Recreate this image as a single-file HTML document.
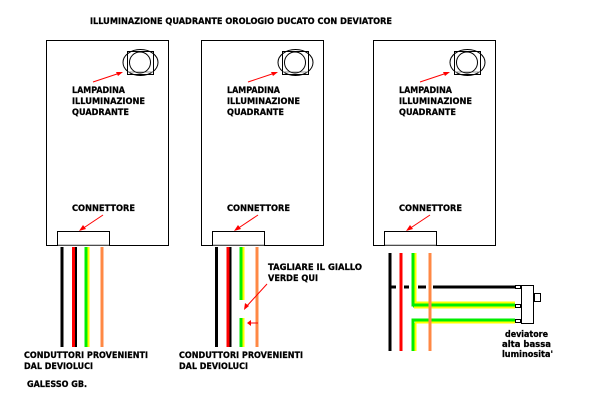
<!DOCTYPE html>
<html><head><style>body{margin:0;background:#fff}svg{display:block}text{font-family:"DejaVu Sans","Liberation Sans",sans-serif;font-weight:bold;font-size:8.5px;fill:#000;stroke:#000;stroke-width:0.25}</style></head><body>
<svg width="600" height="401" viewBox="0 0 600 401" xmlns="http://www.w3.org/2000/svg">
<defs>
<g id="panel">
<rect x="46.5" y="40.5" width="122" height="205" fill="#fff" stroke="#000" stroke-width="1"/>
<ellipse cx="140.5" cy="62.5" rx="17.5" ry="13" fill="none" stroke="#000"/>
<rect x="127.5" y="51.5" width="26" height="23" fill="none" stroke="#000"/>
<line x1="128" y1="72" x2="153" y2="72" stroke="#999"/>
<circle cx="140" cy="62.5" r="10.5" fill="none" stroke="#000"/>
<line x1="93" y1="82" x2="120" y2="73" stroke="#f00"/>
<polygon points="123,72 116,72 118,76" fill="#f00"/>
<text x="72" y="93" textLength="53" lengthAdjust="spacingAndGlyphs">LAMPADINA</text>
<text x="72" y="104" textLength="73" lengthAdjust="spacingAndGlyphs">ILLUMINAZIONE</text>
<text x="72" y="115" textLength="57" lengthAdjust="spacingAndGlyphs">QUADRANTE</text>
<text x="72" y="211" textLength="63" lengthAdjust="spacingAndGlyphs">CONNETTORE</text>
<line x1="103" y1="215" x2="82" y2="229" stroke="#f00"/>
<polygon points="79,231 83,225 86,229" fill="#f00"/>
<rect x="57.5" y="231.5" width="52" height="14" fill="#fff" stroke="#000"/>
<line x1="58" y1="245" x2="109" y2="245" stroke="#999"/>
</g>
</defs>
<text x="90" y="24" textLength="302" lengthAdjust="spacingAndGlyphs">ILLUMINAZIONE QUADRANTE OROLOGIO DUCATO CON DEVIATORE</text>
<use href="#panel"/>
<use href="#panel" transform="translate(155,0)"/>
<use href="#panel" transform="translate(327,0)"/>
<g stroke-width="3">
<line x1="62" y1="247" x2="62" y2="347" stroke="#000"/>
<line x1="73.5" y1="247" x2="73.5" y2="347" stroke="#f00"/>
<line x1="76" y1="247" x2="76" y2="347" stroke="#000" stroke-width="2"/>
<line x1="86" y1="247" x2="86" y2="347" stroke="#0e0"/>
<line x1="88.5" y1="247" x2="88.5" y2="347" stroke="#ff0" stroke-width="2"/>
<line x1="102" y1="247" x2="102" y2="347" stroke="#f84"/>
<line x1="216.5" y1="247" x2="216.5" y2="347" stroke="#000"/>
<line x1="228" y1="247" x2="228" y2="347" stroke="#f00"/>
<line x1="230.5" y1="247" x2="230.5" y2="347" stroke="#000" stroke-width="2"/>
<line x1="241" y1="247" x2="241" y2="300" stroke="#0e0"/>
<line x1="243.5" y1="247" x2="243.5" y2="300" stroke="#ff0" stroke-width="2"/>
<line x1="241" y1="318" x2="241" y2="347" stroke="#0e0"/>
<line x1="243.5" y1="318" x2="243.5" y2="347" stroke="#ff0" stroke-width="2"/>
<line x1="257" y1="247" x2="257" y2="347" stroke="#f84"/>
</g>
<line x1="267" y1="284" x2="246" y2="307" stroke="#f00"/>
<polygon points="244,310 245,303 249,306" fill="#f00"/>
<line x1="258" y1="323" x2="249" y2="323" stroke="#f00"/>
<polygon points="247,323 251,320 251,326" fill="#f00"/>
<text x="268" y="270" textLength="94" lengthAdjust="spacingAndGlyphs">TAGLIARE IL GIALLO</text>
<text x="268" y="281" textLength="50" lengthAdjust="spacingAndGlyphs">VERDE QUI</text>
<g stroke-width="3">
<line x1="390" y1="253" x2="390" y2="351" stroke="#000"/>
<line x1="401" y1="253" x2="401" y2="351" stroke="#f00"/>
<polyline points="413,253 413,305 515,305" fill="none" stroke="#0e0"/>
<polyline points="415.5,253 415.5,302.5 515,302.5" fill="none" stroke="#ff0" stroke-width="2"/>
<line x1="413" y1="306" x2="515" y2="306" stroke="#0e0"/>
<line x1="414" y1="307.5" x2="515" y2="307.5" stroke="#ff0" stroke-width="2"/>
<polyline points="515,320 413,320 413,351" fill="none" stroke="#0e0"/>
<line x1="415" y1="322.5" x2="515" y2="322.5" stroke="#ff0" stroke-width="2"/>
<line x1="415.5" y1="323" x2="415.5" y2="351" stroke="#ff0" stroke-width="2"/>
<line x1="430" y1="253" x2="430" y2="351" stroke="#f84"/>
<line x1="390" y1="287" x2="396" y2="287" stroke="#000"/>
<line x1="404" y1="287" x2="409" y2="287" stroke="#000"/>
<line x1="418" y1="287" x2="426" y2="287" stroke="#000"/>
<line x1="433" y1="287" x2="515" y2="287" stroke="#000"/>
</g>
<g fill="#fff" stroke="#000" stroke-width="1">
<rect x="515.5" y="285.5" width="5" height="3"/>
<rect x="515.5" y="304.5" width="5" height="3"/>
<rect x="515.5" y="319.5" width="5" height="3"/>
<rect x="521.5" y="285.5" width="12" height="38"/>
<rect x="534.5" y="293.5" width="6" height="8"/>
</g>
<text x="505" y="337" textLength="43" lengthAdjust="spacingAndGlyphs">deviatore</text>
<text x="502" y="347" textLength="49" lengthAdjust="spacingAndGlyphs">alta  bassa</text>
<text x="502" y="357" textLength="51" lengthAdjust="spacingAndGlyphs">luminosita'</text>
<text x="24" y="358" textLength="124" lengthAdjust="spacingAndGlyphs">CONDUTTORI PROVENIENTI</text>
<text x="24" y="369" textLength="69" lengthAdjust="spacingAndGlyphs">DAL DEVIOLUCI</text>
<text x="179" y="358" textLength="124" lengthAdjust="spacingAndGlyphs">CONDUTTORI PROVENIENTI</text>
<text x="179" y="369" textLength="69" lengthAdjust="spacingAndGlyphs">DAL DEVIOLUCI</text>
<text x="27" y="387" textLength="60" lengthAdjust="spacingAndGlyphs">GALESSO GB.</text>
</svg>
</body></html>
